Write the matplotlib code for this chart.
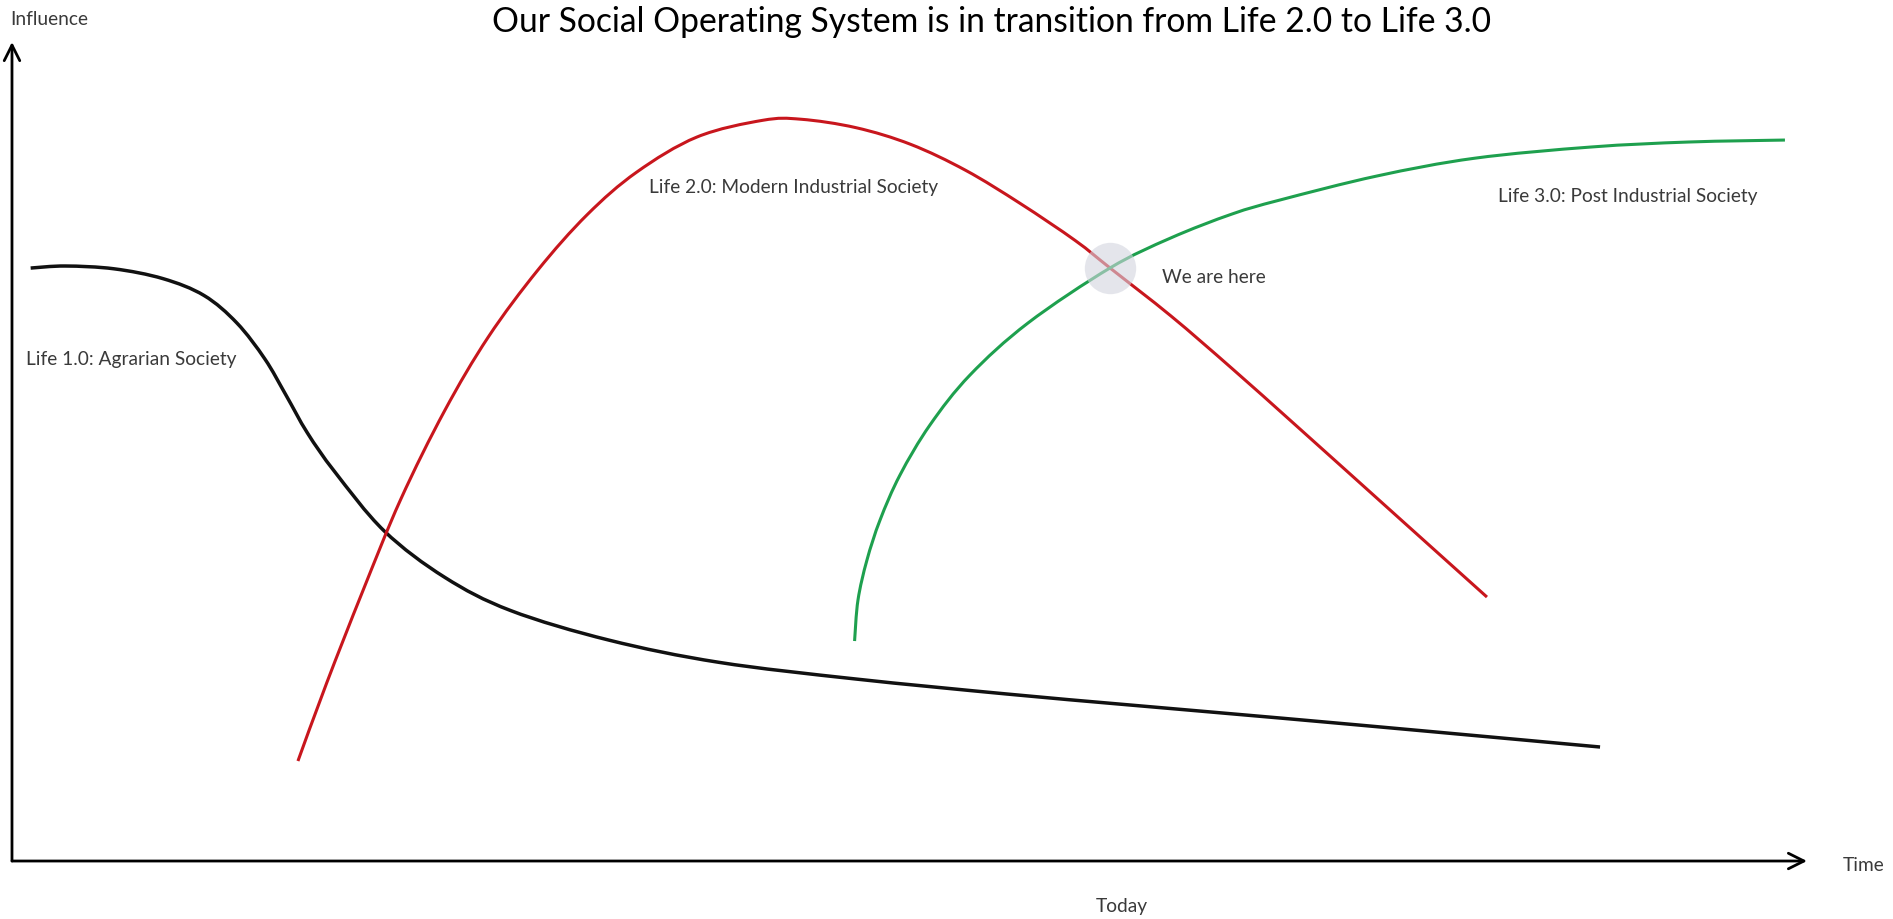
import numpy as np
import matplotlib
matplotlib.use("Agg")
import matplotlib.pyplot as plt
from matplotlib.path import Path
from matplotlib.patches import PathPatch

plt.rcParams['font.family'] = ['Lato', 'DejaVu Sans']

# Life 1.0 (agrarian) - time, influence
life1_t = [1.04, 2.97, 5.68, 8.41, 10.70, 12.53, 14.09, 15.26, 16.46, 17.99, 20.74,
           24.10, 27.77, 33.26, 39.38, 47.02, 55.43, 62.28, 70.64, 79.33, 88.47]
life1_v = [72.40, 72.65, 72.31, 71.11, 69.05, 65.69, 61.29, 56.90, 52.26, 47.50, 40.29,
           34.65, 30.59, 26.97, 24.26, 22.22, 20.39, 19.05, 17.46, 15.75, 13.92]

# Life 2.0 (modern industrial)
life2_t = [15.93, 17.53, 19.52, 21.65, 24.10, 26.54, 29.29, 32.04, 34.80, 38.16,
           41.82, 43.96, 47.02, 50.07, 53.13, 56.18, 59.24, 61.17, 64.57, 67.97,
           71.75, 77.33, 82.17]
life2_v = [12.21, 21.73, 32.84, 44.13, 54.97, 64.0, 72.14, 78.91, 84.11, 88.40,
           90.44, 90.57, 89.54, 87.50, 84.33, 80.27, 75.75, 72.41, 66.54, 60.13,
           52.75, 41.76, 32.23]

# Life 3.0 (post industrial)
life3_t = [46.94, 47.13, 47.63, 48.36, 49.47, 51.14, 53.37, 56.60, 61.17, 64.55,
           67.97, 70.64, 76.04, 81.48, 87.97, 93.40, 98.77]
life3_v = [26.86, 31.87, 36.75, 41.64, 47.13, 53.24, 59.34, 65.69, 72.41, 76.07,
           79.00, 80.71, 83.64, 85.81, 87.18, 87.79, 88.03]

today_t = 61.17
today_v = 72.41


def smooth_path(xs, ys):
    # cubic bezier segments through the points (catmull-rom handles)
    p = np.column_stack([xs, ys])
    n = len(p)
    verts = [p[0]]
    codes = [Path.MOVETO]
    for i in range(n - 1):
        a = p[i - 1] if i > 0 else p[i]
        d = p[i + 2] if i + 2 < n else p[i + 1]
        c1 = p[i] + (p[i + 1] - a) / 6.0
        c2 = p[i + 1] - (d - p[i]) / 6.0
        verts += [c1, c2, p[i + 1]]
        codes += [Path.CURVE4] * 3
    return Path(verts, codes)


fig = plt.figure(figsize=(18.93, 9.19), dpi=100)
ax = fig.add_axes([0, 0, 1, 1])
ax.set_xlim(-0.668, 104.79)
ax.set_ylim(-7.08, 105.13)
ax.axis('off')

for t, v, c, w in [(life1_t, life1_v, '#111111', 2.5),
                   (life2_t, life2_v, '#c8161d', 2.2),
                   (life3_t, life3_v, '#1ea04e', 2.2)]:
    ax.add_patch(PathPatch(smooth_path(t, v), fill=False, edgecolor=c, lw=w,
                           capstyle='butt'))

ax.plot([today_t], [today_v], 'o', ms=37, color='#d3d5df', alpha=0.6,
        markeredgewidth=0, zorder=5)

# axes arrows
arrow = dict(arrowstyle='->', color='black', lw=2, mutation_scale=28,
             shrinkA=0, shrinkB=0)
ax.annotate('', xy=(100, 0), xytext=(0, 0), arrowprops=arrow)
ax.annotate('', xy=(0, 100), xytext=(0, 0), arrowprops=arrow)

txt = dict(color='#3a3a3a', fontsize=13.8, va='center')
ax.text(-0.11, 102.8, 'Influence', ha='left', **txt)
ax.text(102.0, -0.5, 'Time', ha='left', **txt)
ax.text(61.84, -5.6, 'Today', ha='center', **txt)
ax.text(0.78, 61.2, 'Life 1.0: Agrarian Society', ha='left', **txt)
ax.text(35.49, 82.2, 'Life 2.0: Modern Industrial Society', ha='left', **txt)
ax.text(82.79, 81.1, 'Life 3.0: Post Industrial Society', ha='left', **txt)
ax.text(64.07, 71.3, 'We are here', ha='left', **txt)

fig.text(0.524, 0.976, 'Our Social Operating System is in transition from Life 2.0 to Life 3.0',
         ha='center', va='center', fontsize=24.2, color='black')

fig.savefig('out.png', dpi=100)
